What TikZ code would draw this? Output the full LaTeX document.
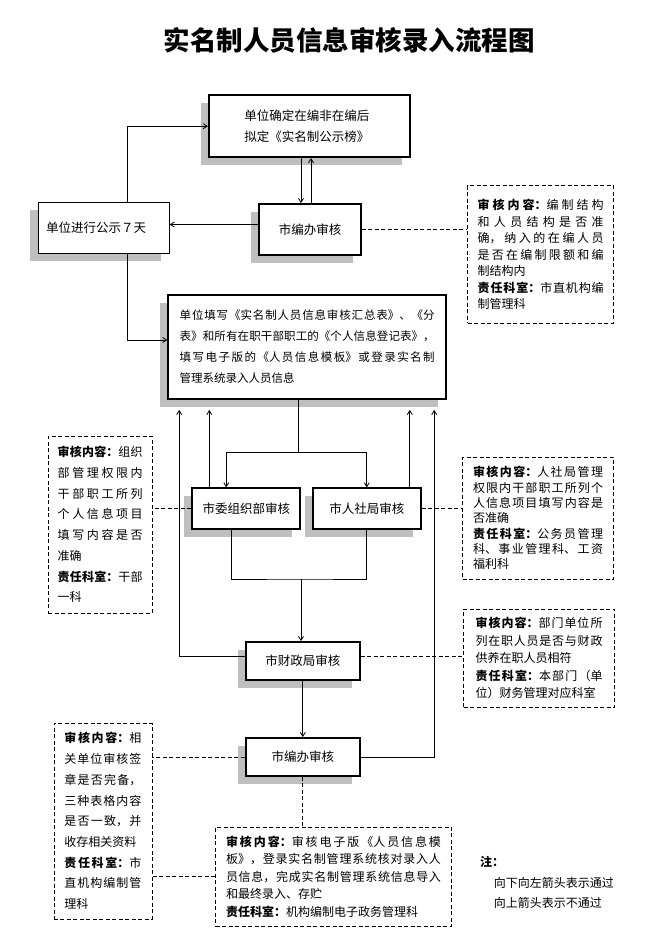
\documentclass[tikz,border=0pt]{standalone}
\usepackage{fontspec}
\newfontfamily\cjk{Noto Sans CJK SC}
\usetikzlibrary{arrows.meta,shadows,calc}
\XeTeXlinebreaklocale "zh"
\XeTeXlinebreakskip=0pt plus 4pt

\begin{document}
\begin{tikzpicture}[x=1pt,y=-1pt,font=\cjk,
  kasten/.style={draw,line width=1.8pt,fill=white,inner sep=0pt,
    general shadow={fill=gray!50,shadow xshift=-8pt,shadow yshift=-8pt},
    font=\cjk\fontsize{12.5}{21.7}\selectfont},
  kastenduenn/.style={kasten,line width=0.9pt},
  notiz/.style={draw,line width=0.8pt,dash pattern=on 4pt off 2.5pt,inner sep=0pt,
    align=justify,font=\cjk\fontsize{12}{#1}\selectfont},
  linie/.style={line width=0.8pt},
  pfeil/.style={linie,-{Straight Barb[length=4pt,width=5pt]}},
  strich/.style={line width=0.8pt,dash pattern=on 4pt off 2.5pt}]
%Alle Maße in Pixeln des Bildes (661 x 941), y zeigt nach unten
\useasboundingbox (0,0) rectangle (661,941);

\node[font=\cjk\bfseries\fontsize{26.5}{30}\selectfont] (titel) at (349,40) {实名制人员信息审核录入流程图};

\node[kasten,minimum width=201pt,minimum height=62pt,text width=130pt,align=left] (nibang) at (309.3,126.2) {单位确定在编非在编后\\拟定《实名制公示榜》};
\node[kasten,minimum width=102pt,minimum height=51pt] (bianban) at (310,229.5) {市编办审核};
\node[kastenduenn,minimum width=131pt,minimum height=51pt,text width=115pt,align=left] (gongshi) at (103.7,227.5) {单位进行公示７天};
\node[kasten,minimum width=278pt,minimum height=104pt,text width=255pt,align=justify,font=\cjk\fontsize{11.5}{21}\selectfont] (tianxie) at (307.2,347) {单位填写《实名制人员信息审核汇总表》、《分\linebreak 表》和所有在职干部职工的《个人信息登记表》，\linebreak 填写电子版的《人员信息模板》或登录实名制\linebreak 管理系统录入人员信息};
\node[kasten,minimum width=108pt,minimum height=41pt] (zuzhi) at (246.3,508.8) {市委组织部审核};
\node[kasten,minimum width=108pt,minimum height=41pt] (renshe) at (366.8,508.8) {市人社局审核};
\node[kasten,minimum width=114pt,minimum height=38pt] (caizheng) at (302.8,661) {市财政局审核};
\node[kasten,minimum width=114pt,minimum height=38pt] (bianbanb) at (302.8,757) {市编办审核};

\node[notiz=16.5,minimum width=146pt,minimum height=137pt,text width=126pt] (notebb) at (540.7,254.4) {\textbf{审核内容：}编制结构\linebreak 和人员结构是否准\linebreak 确，纳入的在编人员\linebreak 是否在编制限额和编\linebreak 制结构内\newline \textbf{责任科室：}市直机构编\linebreak 制管理科};
\node[notiz=20.7,minimum width=103.6pt,minimum height=177pt,text width=85pt] (notezz) at (100.2,524.5) {\textbf{审核内容：}组织\linebreak 部管理权限内\linebreak 干部职工所列\linebreak 个人信息项目\linebreak 填写内容是否\linebreak 准确\newline \textbf{责任科室：}干部\linebreak 一科};
\node[notiz=15.3,minimum width=151pt,minimum height=122pt,text width=130pt] (noters) at (538,518) {\textbf{审核内容：}人社局管理\linebreak 权限内干部职工所列个\linebreak 人信息项目填写内容是\linebreak 否准确\newline \textbf{责任科室：}公务员管理\linebreak 科、事业管理科、工资\linebreak 福利科};
\node[notiz=17.4,minimum width=151pt,minimum height=98pt,text width=127pt] (notecz) at (539,658) {\textbf{审核内容：}部门单位所\linebreak 列在职人员是否与财政\linebreak 供养在职人员相符\newline \textbf{责任科室：}本部门（单\linebreak 位）财务管理对应科室};
\node[notiz=20.7,minimum width=98pt,minimum height=196pt,text width=77pt] (notebl) at (102.9,821) {\textbf{审核内容：}相\linebreak 关单位审核签\linebreak 章是否完备，\linebreak 三种表格内容\linebreak 是否一致，并\linebreak 收存相关资料\newline \textbf{责任科室：}市\linebreak 直机构编制管\linebreak 理科};
\node[notiz=17.5,minimum width=236pt,minimum height=99pt,text width=215pt] (notedz) at (333.5,876.5) {\textbf{审核内容：}审核电子版《人员信息模\linebreak 板》，登录实名制管理系统核对录入人\linebreak 员信息，完成实名制管理系统信息导入\linebreak 和最终录入、存贮\newline \textbf{责任科室：}机构编制电子政务管理科};

\node[font=\cjk\bfseries\fontsize{12}{14}\selectfont,inner sep=0pt] (zhu) at (492,862) {注：};
\node[anchor=west,inner sep=0pt,font=\cjk\fontsize{12}{14}\selectfont] (legab) at (493.7,883) {向下向左箭头表示通过};
\node[anchor=west,inner sep=0pt,font=\cjk\fontsize{12}{14}\selectfont] (legauf) at (493.7,903) {向上箭头表示不通过};

%Hilfspunkte: Schattenunterkante von tianxie liegt 10px tiefer
\coordinate (ab) at ([xshift=-9pt]bianban.north);
\coordinate (auf) at ([xshift=1pt]bianban.north);
\coordinate (bw) at ([yshift=5pt]bianban.west);
\coordinate (gso) at ([xshift=24pt]gongshi.north);
\coordinate (gsu) at ([xshift=24pt]gongshi.south);
\coordinate (dsb) at ([yshift=-10pt]tianxie.south);
\coordinate (fen) at (298.5,452.3);
\coordinate (he) at (301,579);
\coordinate (zzin) at ([xshift=-20pt]zuzhi.north);
\coordinate (zzaus) at ([xshift=-15pt]zuzhi.south);
\coordinate (zzauf) at ([xshift=-37pt]zuzhi.north);
\coordinate (rsauf) at ([xshift=43pt]renshe.north);
\coordinate (czl) at ([yshift=5pt]caizheng.west);
\coordinate (czr) at ([yshift=5pt]caizheng.east);
\coordinate (czo) at ([xshift=-128pt]dsb);
\coordinate (bbo) at ([xshift=127pt]dsb);

\draw[pfeil] (nibang.south -| ab) -- (ab);
\draw[pfeil] (auf) -- (nibang.south -| auf);
\draw[pfeil] (bw) -- (bw -| gongshi.east);
\draw[pfeil] (gso) |- (nibang.west);
\draw[pfeil] (gsu) |- ([yshift=7pt]tianxie.west);

\draw[linie] (tianxie.south -| fen) -- (fen);
\draw[pfeil] (fen) -| (zzin);
\draw[pfeil] (fen) -| (renshe.north);
\foreach \p in {zzauf,rsauf}{
\draw[pfeil] (\p) -- (\p |- dsb);
}
\draw[linie] (zzaus) |- (he) -| (renshe.south);
\draw[pfeil] (he) -- (he |- caizheng.north);
\draw[pfeil] (czl) -| (czo);
\draw[pfeil] (caizheng.south) -- (bianbanb.north);
\draw[pfeil] (bianbanb.east) -| (bbo);

\foreach \von/\nach in {bianban.east/notebb.west, zuzhi.west/notezz.east, renshe.east/noters.west, czr/notecz.west, bianbanb.west/notebl.east, notedz.west/notebl.east}{
\draw[strich] (\von) -- (\von -| \nach);
}
\draw[strich] (bianbanb.south) -- (bianbanb.south |- notedz.north);
\end{tikzpicture}
\end{document}
